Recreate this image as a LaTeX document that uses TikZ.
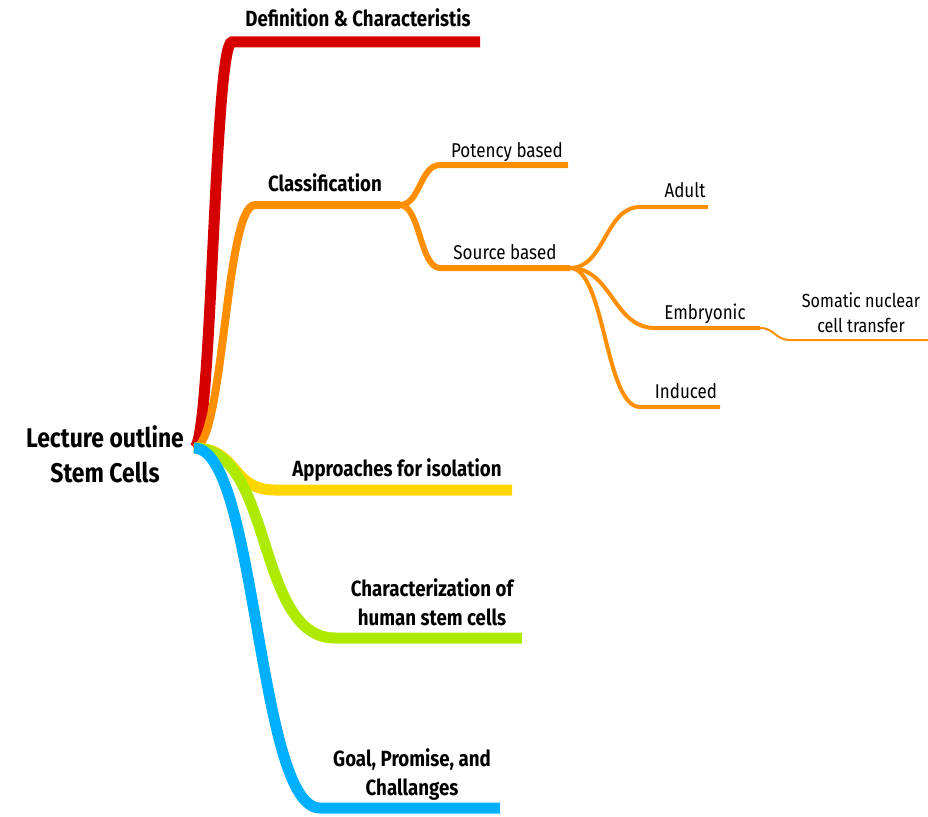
\documentclass[tikz,border=0pt]{standalone}
\usepackage{fontspec}
\setmainfont{Fira Sans}[FakeStretch=0.85]
\definecolor{defred}{HTML}{D50000}
\definecolor{clsorange}{HTML}{FF8F00}
\definecolor{isoyellow}{HTML}{FFD600}
\definecolor{chargreen}{HTML}{AEEA00}
\definecolor{goalblue}{HTML}{00B0FF}
\begin{document}
\begin{tikzpicture}[x=1pt, y=-1pt,
    trunk/.style={line width=11pt, line cap=butt},
    bough/.style={line width=8pt, line cap=butt, clsorange},
    twig/.style={line width=6pt, line cap=butt, clsorange},
    sprig/.style={line width=4pt, line cap=butt, clsorange},
    thread/.style={line width=2pt, line cap=butt, clsorange},
    toplabel/.style={anchor=base, inner sep=0pt, font=\fontsize{22}{28.5}\selectfont\bfseries, align=center},
    sublabel/.style={anchor=base, inner sep=0pt, font=\fontsize{20}{25}\selectfont, align=center}]
    \useasboundingbox (0,0) rectangle (928,816);

    % root
    \node[anchor=base, inner sep=0pt, align=center, font=\fontsize{27}{35}\selectfont\bfseries]
        (title) at (105,482) {Lecture outline\\Stem Cells};
    \coordinate (root) at (194,448);

    % branch points
    \coordinate (def-a) at (232,42);   \coordinate (def-b) at (480,42);
    \coordinate (cls-a) at (255,205);  \coordinate (cls-b) at (400,205);
    \coordinate (pot-a) at (440,165);  \coordinate (pot-b) at (568,165);
    \coordinate (src-a) at (440,268);  \coordinate (src-b) at (570,268);
    \coordinate (adu-a) at (640,207);  \coordinate (adu-b) at (708,207);
    \coordinate (emb-a) at (655,328);  \coordinate (emb-b) at (760,328);
    \coordinate (ind-a) at (640,407);  \coordinate (ind-b) at (720,407);
    \coordinate (scn-a) at (790,340);  \coordinate (scn-b) at (928,340);
    \coordinate (iso-a) at (275,490);  \coordinate (iso-b) at (512,490);
    \coordinate (chr-a) at (335,638);  \coordinate (chr-b) at (522,638);
    \coordinate (gol-a) at (320,808);  \coordinate (gol-b) at (500,808);

    % labels
    \node[toplabel] (def) at (358,27) {Definition \& Characteristis};
    \node[toplabel] (cls) at (325,191) {Classification};
    \node[sublabel] (pot) at (507,157) {Potency based};
    \node[sublabel] (src) at (505,259) {Source based};
    \node[sublabel] (adu) at (685,197) {Adult};
    \node[sublabel] (emb) at (705,319) {Embryonic};
    \node[sublabel] (ind) at (686,398) {Induced};
    \node[sublabel, font=\fontsize{19}{25}\selectfont] (scn) at (861,332) {Somatic nuclear\\cell transfer};
    \node[toplabel] (iso) at (397,476) {Approaches for isolation};
    \node[toplabel] (chr) at (432,625) {Characterization of\\human stem cells};
    \node[toplabel] (gol) at (412,795) {Goal, Promise, and\\Challanges};

    % orange sub tree
    \draw[thread] (emb-b) .. controls +(15,0) and +(-15,0) .. (scn-a) -- (scn-b);
    \draw[sprig] (src-b) .. controls +(35,0) and +(-35,0) .. (adu-a) -- (adu-b);
    \draw[sprig] (src-b) .. controls +(42,0) and +(-42,0) .. (emb-a) -- (emb-b);
    \draw[sprig] (src-b) .. controls +(35,0) and +(-35,0) .. (ind-a) -- (ind-b);
    \draw[twig] (cls-b) .. controls +(20,0) and +(-20,0) .. (pot-a) -- (pot-b);
    \draw[twig] (cls-b) .. controls +(20,0) and +(-20,0) .. (src-a) -- (src-b);

    % main branches
    \draw[trunk, defred] (root) .. controls +(18,0) and +(-18,0) .. (def-a) -- (def-b);
    \draw[bough] (root) .. controls +(30,0) and +(-30,0) .. (cls-a) -- (cls-b);
    \draw[trunk, isoyellow] (root) .. controls +(45,0) and +(-45,0) .. (iso-a) -- (iso-b);
    \draw[trunk, chargreen] (root) .. controls +(80,0) and +(-80,0) .. (chr-a) -- (chr-b);
    \draw[trunk, goalblue] (root) .. controls +(63,0) and +(-63,0) .. (gol-a) -- (gol-b);
\end{tikzpicture}
\end{document}
